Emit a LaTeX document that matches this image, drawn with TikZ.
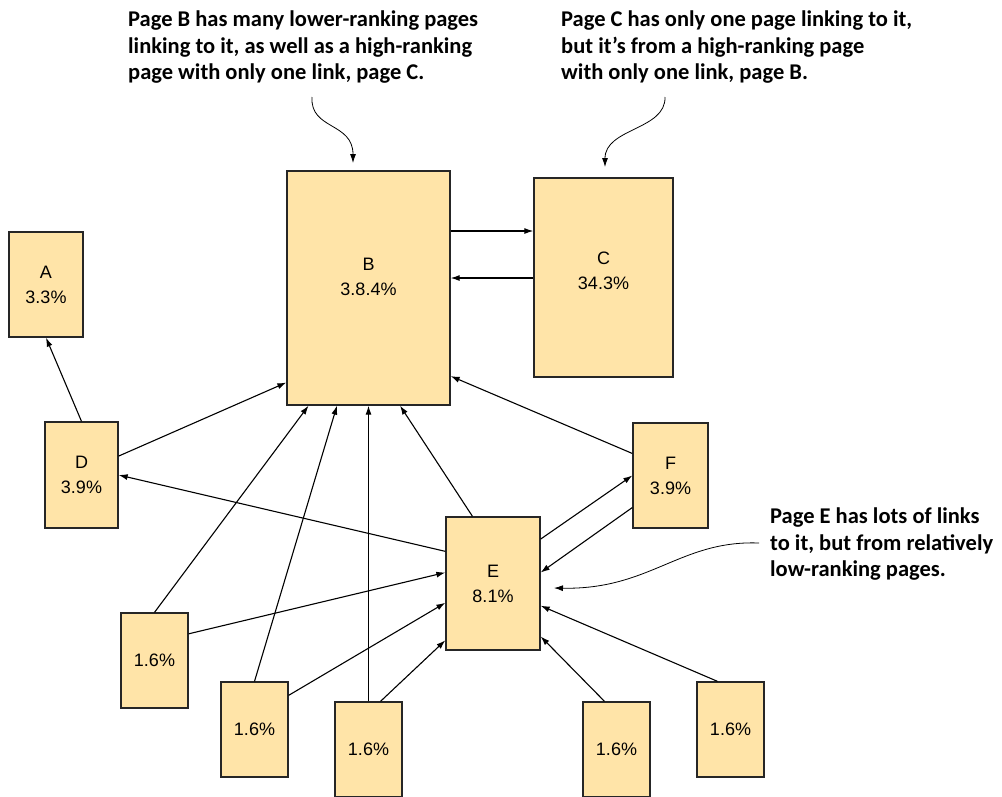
\documentclass[tikz,border=0pt]{standalone}
\usepackage{fontspec}
\setmainfont{Liberation Sans}
\newfontfamily\notefont{Carlito}
\usetikzlibrary{
arrows,
arrows.meta,
calc,
positioning
}
\tikzset{>={Latex[length=9pt,width=6pt]}}
\definecolor{pagefill}{RGB}{255,228,168}

\begin{document}
\begin{tikzpicture}[x=1pt, y=-1pt,
		page/.style={draw=black!85, fill=pagefill, line width=1.3pt, inner sep=0, align=center, font=\fontsize{18}{25}\selectfont},
		small/.style={page, minimum width=67, minimum height=95},
		pagetext/.style={inner sep=0, align=center, font=\fontsize{18}{25}\selectfont},
		note/.style={inner sep=0, align=left, anchor=north west, font=\notefont\bfseries\fontsize{22.5}{26.5}\selectfont},
		link/.style={->, line width=1.1pt},
		hint/.style={->, line width=0.8pt}]
		\useasboundingbox (0,0) rectangle (1002,796);

		\node[page,minimum width=74,minimum height=105] (A) at (46,284.5) {A\\3.3\%};
		\node[page,minimum width=163,minimum height=234] (B) at (368.5,288) {};
		\node[pagetext] (Btext) at ([yshift=11.5]B.center) {B\\3.8.4\%};
		\node[page,minimum width=139,minimum height=199] (C) at (603.5,277.5) {};
		\node[pagetext] (Ctext) at ([yshift=7]C.center) {C\\34.3\%};
		\node[page,minimum width=73,minimum height=106] (D) at (81.5,475) {D\\3.9\%};
		\node[page,minimum width=94,minimum height=133] (E) at (493,583.5) {E\\8.1\%};
		\node[page,minimum width=75,minimum height=105] (F) at (670.5,475.5) {F\\3.9\%};

		\node[small] (S1) at (154.5,660.5) {1.6\%};
		\node[small] (S2) at (254.5,729.5) {1.6\%};
		\node[small] (S3) at (368.5,749.5) {1.6\%};
		\node[small] (S4) at (616.5,749.5) {1.6\%};
		\node[small] (S5) at (730.5,729.5) {1.6\%};

		\draw[link] (D.north) -- (A.south);
		\draw[link] (D.27) -- (B.229);
		\draw[link] (E.146) -- (D.east);
		\draw[link] (E.107) -- (B.285);
		\draw[link] (F.150) -- (B.-47);

		% B and C link to each other.
		\coordinate (bc) at ([yshift=57]B.east);
		\coordinate (cb) at ([yshift=10]B.east);
		\draw[link] (bc) -- (bc -| C.west);
		\draw[link] (cb -| C.west) -- (cb);

		\draw[link] (E.43) -- (F.west);
		\draw[link] (F.220) -- (E.13);

		\draw[link] (S1.north) -- (B.243);
		\draw[link] (S1.38) -- (E.167);
		\draw[link] (S2.north) -- (B.255);
		\draw[link] (S2.45) -- (E.202);
		\draw[link] (S3.north) -- (S3.north |- B.south);
		\draw[link] ([xshift=12]S3.north) -- (E.230);
		\draw[link] ([xshift=-12]S4.north) -- (E.-48);
		\draw[link] ([xshift=-13]S5.north) -- (E.-25);

		% notes.
		\node[note] (noteB) at (128,11) {Page B has many lower-ranking pages\\linking to it, as well as a high-ranking\\page with only one link, page C.};
		\node[note] (noteC) at (561,11) {Page C has only one page linking to it,\\but it’s from a high-ranking page\\with only one link, page B.};
		\node[note] (noteE) at (770,508) {Page E has lots of links\\to it, but from relatively\\low-ranking pages.};

		\coordinate (hintB) at (312,97);
		\coordinate (hintBend) at (353,163);
		\draw[hint] (hintB) .. controls (310,130) and (353,122) .. (hintBend);
		\coordinate (hintC) at (665,97);
		\coordinate (hintCend) at (605,167);
		\draw[hint] (hintC) .. controls (666,130) and (605,128) .. (hintCend);
		\coordinate (hintE) at (759,543);
		\coordinate (hintEend) at (554,588);
		\draw[hint] (hintE) .. controls (680,540) and (650,590) .. (hintEend);
	\end{tikzpicture}
\end{document}
